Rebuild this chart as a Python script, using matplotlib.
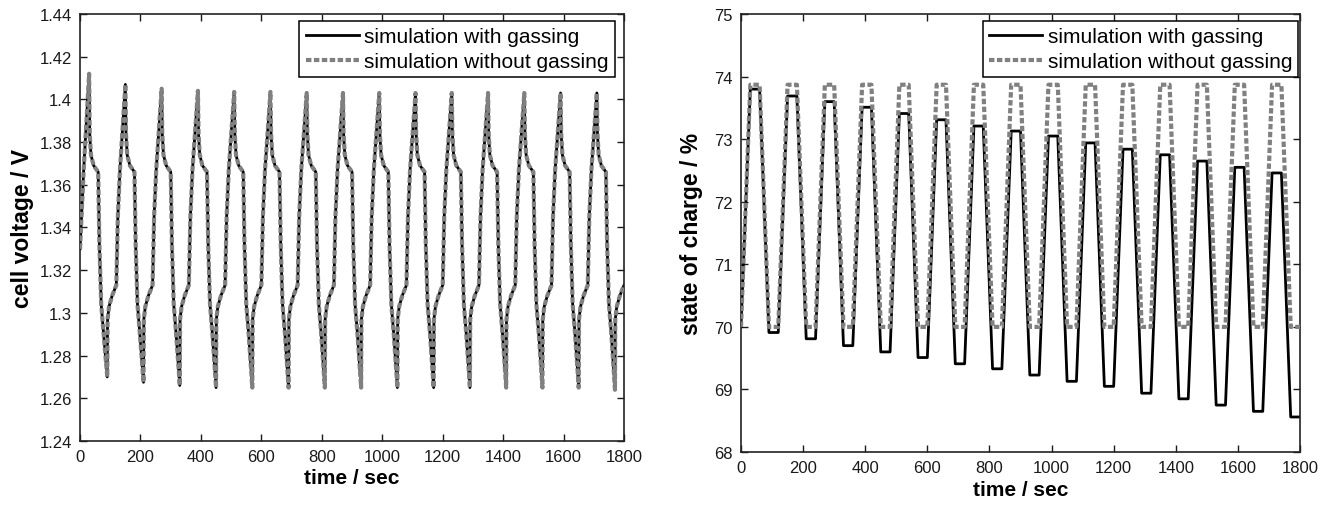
import numpy as np
import matplotlib.pyplot as plt
from matplotlib.ticker import FormatStrFormatter, MultipleLocator

plt.rcParams['font.family'] = ['Liberation Sans', 'DejaVu Sans']

# ----------------------------------------------------------
# Cycling data: 15 cycles of 120 s (charge, rest, discharge, rest)
# ----------------------------------------------------------

PERIOD = 120
N_CYCLES = 15

# cell voltage per cycle (V)
volt_peak = [1.412, 1.407, 1.405, 1.404, 1.4035, 1.4035, 1.403, 1.403,
             1.403, 1.403, 1.403, 1.403, 1.403, 1.403, 1.403]
volt_trough = [1.270, 1.2675, 1.266, 1.265, 1.265, 1.265, 1.265, 1.265,
               1.265, 1.265, 1.265, 1.265, 1.265, 1.265, 1.264]
volt_start = 1.33

# shape of one voltage cycle (seconds into the cycle, volts)
charge_t = [5, 12]
charge_v = [1.345, 1.367]
relax_hi_t = [32, 36, 45, 60]
relax_hi_v = [1.384, 1.374, 1.369, 1.366]
discharge_t = [64, 70, 78]
discharge_v = [1.332, 1.304, 1.290]
relax_lo_t = [91, 96, 106, 120]
relax_lo_v = [1.297, 1.303, 1.308, 1.313]

# state of charge per cycle (%)
soc_start = 70.0
soc_peak_gas = [73.80, 73.69, 73.60, 73.51, 73.41, 73.31, 73.21, 73.13,
                73.05, 72.94, 72.84, 72.75, 72.65, 72.55, 72.46]
soc_trough_gas = [69.91, 69.81, 69.70, 69.60, 69.51, 69.41, 69.33, 69.23,
                  69.13, 69.05, 68.94, 68.85, 68.75, 68.65, 68.56]
soc_peak_nogas = [73.87] * N_CYCLES
soc_trough_nogas = [70.0] * N_CYCLES

LABELS = ["simulation with gassing", "simulation without gassing"]
GREY = "#808080"


def voltage_curve(peaks, troughs):
    t, v = [0.0], [volt_start]
    for k in range(N_CYCLES):
        t0 = k * PERIOD
        pts_t = charge_t + [30] + relax_hi_t + discharge_t + [90] + relax_lo_t
        pts_v = charge_v + [peaks[k]] + relax_hi_v + discharge_v + [troughs[k]] + relax_lo_v
        t += [t0 + x for x in pts_t]
        v += pts_v
    return np.array(t), np.array(v)


def soc_curve(peaks, troughs):
    t, s = [0.0], [soc_start]
    for k in range(N_CYCLES):
        t0 = k * PERIOD
        t += [t0 + 30, t0 + 60, t0 + 90, t0 + 120]
        s += [peaks[k], peaks[k], troughs[k], troughs[k]]
    return np.array(t), np.array(s)


def style_axes(ax):
    ax.tick_params(direction="in", top=True, right=True, length=5, width=1,
                   labelsize=12, pad=6, colors="#1a1a1a")
    for sp in ax.spines.values():
        sp.set_linewidth(1.2)
        sp.set_color("#222222")
    ax.set_xlim(0, 1800)
    ax.xaxis.set_major_locator(MultipleLocator(200))
    ax.set_xlabel("time / sec", fontsize=15, fontweight="bold", labelpad=3)


def add_legend(ax, anchor):
    leg = ax.legend(LABELS, loc="upper right", bbox_to_anchor=anchor,
                    borderaxespad=0, fontsize=15, fancybox=False,
                    framealpha=1, edgecolor="black", borderpad=0.3,
                    labelspacing=0.28, handlelength=2.55, handletextpad=0.25)
    leg.get_frame().set_linewidth(1.1)


def plot_pair(ax, x1, y1, x2, y2):
    ax.plot(x1, y1, color="black", lw=2.0, zorder=2)
    ln, = ax.plot(x2, y2, color=GREY, lw=3.0, zorder=3)
    ln.set_dashes((1.3, 0.6))


fig = plt.figure(figsize=(13.32, 5.06), dpi=100)

# ----------------------------------------------------------
# Cell voltage
# ----------------------------------------------------------

ax1 = fig.add_axes([0.0601, 0.1265, 0.4084, 0.8439])
tv, vg = voltage_curve(volt_peak, volt_trough)
tn, vn = voltage_curve(volt_peak, volt_trough)
plot_pair(ax1, tv, vg, tn, vn)
style_axes(ax1)
ax1.set_ylim(1.24, 1.44)
ax1.yaxis.set_major_locator(MultipleLocator(0.02))
ax1.yaxis.set_major_formatter(FormatStrFormatter("%g"))
ax1.set_ylabel("cell voltage / V", fontsize=16.5, fontweight="bold", labelpad=4)
add_legend(ax1, (0.983, 0.984))

# ----------------------------------------------------------
# State of charge
# ----------------------------------------------------------

ax2 = fig.add_axes([0.5563, 0.1047, 0.4197, 0.8656])
ts, sg = soc_curve(soc_peak_gas, soc_trough_gas)
tn, sn = soc_curve(soc_peak_nogas, soc_trough_nogas)
plot_pair(ax2, ts, sg, tn, sn)
style_axes(ax2)
ax2.set_ylim(68, 75)
ax2.yaxis.set_major_locator(MultipleLocator(1))
ax2.set_ylabel("state of charge / %", fontsize=16.5, fontweight="bold", labelpad=8)
add_legend(ax2, (0.997, 0.984))

fig.savefig("out.png", dpi=100)
